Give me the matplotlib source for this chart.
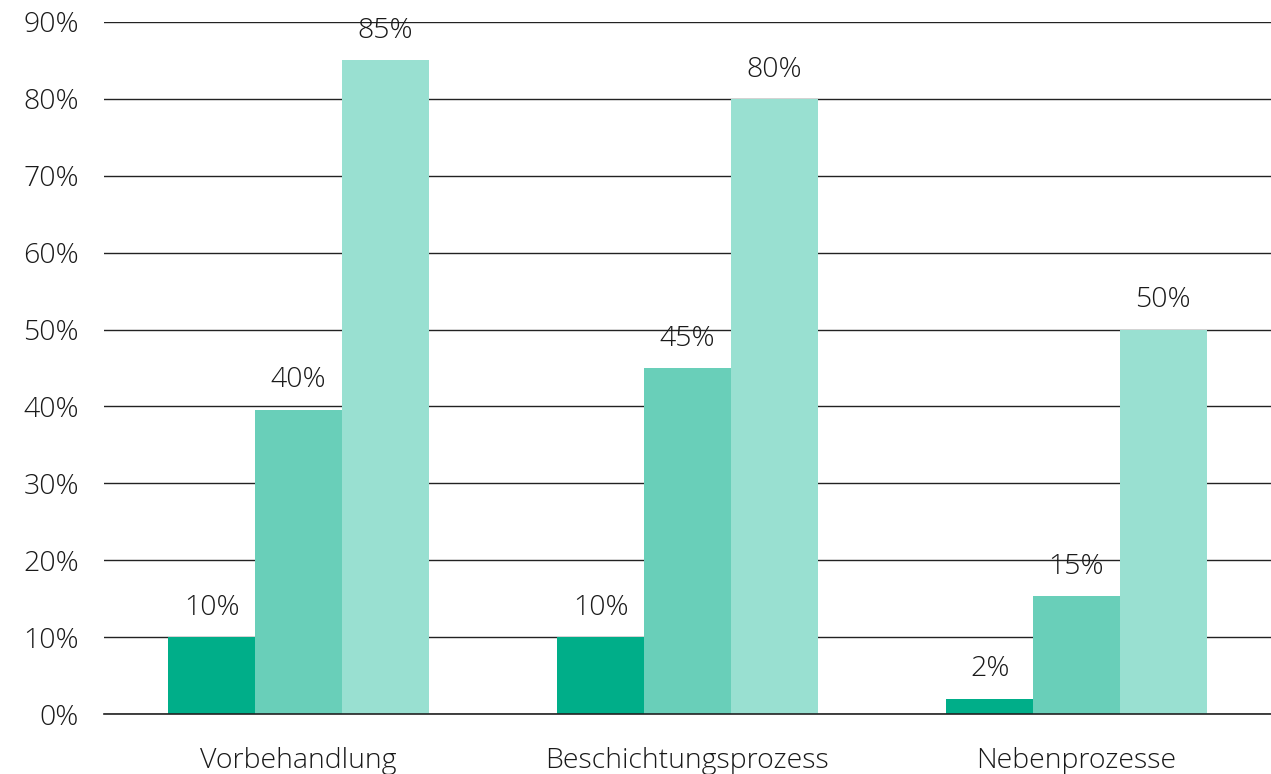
import numpy as np
import matplotlib.pyplot as plt

categories = ["Vorbehandlung", "Beschichtungsprozess", "Nebenprozesse"]
series_1 = [10, 10, 2]
series_2 = [39.6, 45, 15.3]
series_3 = [85, 80, 50]
labels_1 = ["10%", "10%", "2%"]
labels_2 = ["40%", "45%", "15%"]
labels_3 = ["85%", "80%", "50%"]
yticks = [0, 10, 20, 30, 40, 50, 60, 70, 80, 90]

colors = ["#00AE89", "#69CFB9", "#99E0D1"]

plt.rcParams['font.family'] = ['Open Sans', 'DejaVu Sans']
plt.rcParams['font.weight'] = 'light'

fig = plt.figure(figsize=(12.71, 7.74), dpi=100)
ax = fig.add_axes([0.0818, 0.0775, 0.9182, 0.8941])

x = np.arange(len(categories))
w = 0.2233
for i, (vals, labs) in enumerate([(series_1, labels_1), (series_2, labels_2), (series_3, labels_3)]):
    bars = ax.bar(x + (i - 1) * w, vals, width=w, color=colors[i], zorder=3)
    for b, lab in zip(bars, labs):
        ax.annotate(lab, (b.get_x() + b.get_width() / 2, b.get_height()),
                    xytext=(0, 11), textcoords="offset points",
                    ha="center", va="bottom", fontsize=20.5, color="#1a1a1a")

ax.axhline(0, color="#222222", linewidth=1.2, zorder=4, clip_on=False)
ax.set_xlim(-0.5, 2.5)
ax.set_ylim(0, 90)
ax.set_yticks(yticks)
ax.set_yticklabels([f"{v}%" for v in yticks])
ax.set_xticks(x)
ax.set_xticklabels(categories)
ax.tick_params(axis="both", length=0, labelsize=20.5, colors="#1a1a1a")
ax.tick_params(axis="y", pad=18)
ax.tick_params(axis="x", pad=24)
ax.yaxis.grid(True, color="#222222", linewidth=1, zorder=0)
ax.set_axisbelow(True)
for s in ax.spines.values():
    s.set_visible(False)

fig.savefig("out.png", dpi=100)
